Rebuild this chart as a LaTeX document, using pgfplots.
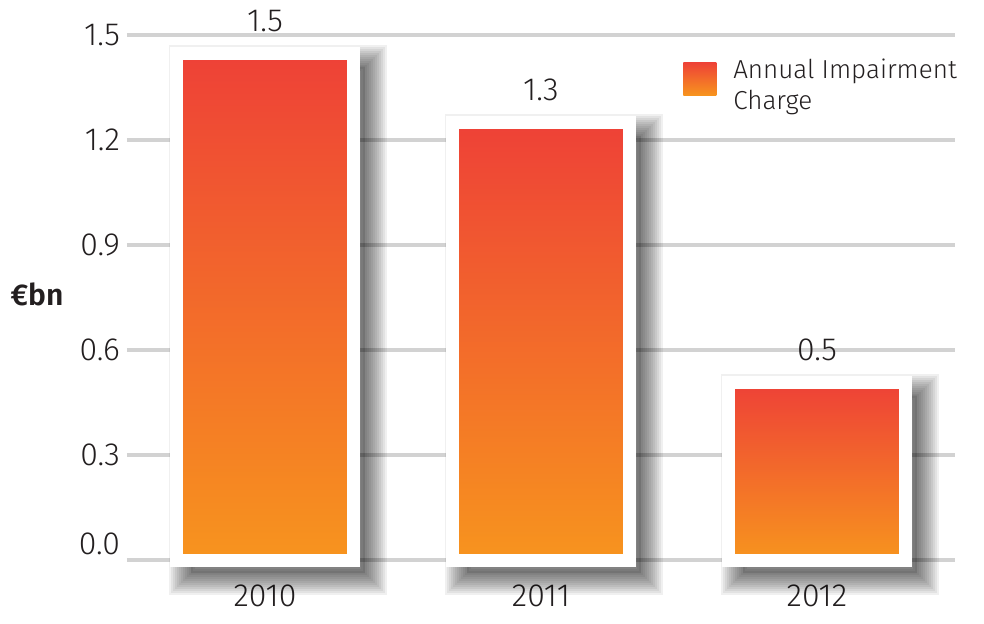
\documentclass[border=0pt]{standalone}
\usepackage{fontspec}
\setmainfont{Fira Sans}[UprightFont={* Light}, BoldFont={* SemiBold}]
\usepackage{pgfplots}
\usepackage{pgfplotstable}
\pgfplotsset{compat=1.18}

\definecolor{barTop}{HTML}{EE4137}
\definecolor{barBot}{HTML}{F7941E}
\definecolor{gridGray}{HTML}{D2D2D2}
\definecolor{txt}{HTML}{231F20}

\pgfplotsset{
    % soft drop shadow: stacked translucent outlines of slightly narrower bars
    shadowbar/.style={ybar, bar width=0.630, bar shift=0pt, forget plot,
        fill=none, draw=black, draw opacity=0.058,
        line width=#1, xshift=6.5pt, yshift=-6.5pt},
    % one framed bar, picked out of the table by its x
    mainbar/.style={ybar, bar width=0.641, bar shift=0pt,
        top color=barTop, bottom color=barBot,
        draw=white, line width=6.5pt,
        x filter/.expression={abs(x-#1)<0.1 ? x : nan},
        point meta=explicit symbolic,
        nodes near coords,
        nodes near coords style={font=\fontsize{16}{19}\selectfont, text=txt,
            anchor=south, yshift=4.5pt},
        legend image code/.code={
            \path[draw=none, top color=barTop, bottom color=barBot]
                (0pt,-5pt) rectangle (16.5pt,11.5pt);
        }},
}

% year position, bar height, printed label
\pgfplotstableread{
x val lab
0 1.447 1.5
1 1.249 1.3
2 0.507 0.5
}\charge

\begin{document}
\begin{tikzpicture}
\begin{axis}[
    at={(0,0)}, anchor=south west,
    scale only axis,
    width=414pt, height=262.5pt,
    xmin=-0.5, xmax=2.5,
    ymin=0, ymax=1.5,
    clip=false,
    axis line style={draw=none},
    major tick length=0pt,
    xtick={0,1,2},
    xticklabels={2010,2011,2012},
    ytick={0.3,0.6,...,1.5},
    extra y ticks={0},
    extra tick style={yticklabel style={yshift=8pt}},
    ymajorgrids,
    extra y tick style={grid=major},
    major grid style={draw=gridGray, line width=1.6pt},
    /pgf/number format/assume math mode=true,
    yticklabel={\pgfmathprintnumber[fixed,fixed zerofill,precision=1]{\tick}},
    tick label style={font=\fontsize{16}{19}\selectfont, text=txt},
    xticklabel style={yshift=-9pt},
    ylabel={€bn},
    ylabel style={rotate=-90, at={(rel axis cs:-0.1087,0.505)}, anchor=center,
        font=\fontsize{15}{18}\selectfont\bfseries, text=txt},
    legend style={at={(axis cs:1.514,1.434)}, anchor=north west,
        draw=none, fill=none, inner sep=0pt,
        font=\fontsize{13}{15.5}\selectfont, text=txt,
        nodes={inner sep=0pt},
        cells={align=left, anchor=west},
        column sep=8.5pt},
]
\addplot[ybar, bar width=0.630, bar shift=0pt, forget plot,
    fill=black, fill opacity=0.12, draw=none, xshift=6.5pt, yshift=-6.5pt]
    table[x=x, y=val] {\charge};
\pgfplotsinvokeforeach{2,4,6,8,10,12,14,16,18,20,22}{
    \addplot[shadowbar=#1pt] table[x=x, y=val] {\charge};
}
\addplot[mainbar=0] table[x=x, y=val, meta=lab] {\charge};
\addlegendentry{Annual Impairment\\Charge}
\addplot[mainbar=1, forget plot] table[x=x, y=val, meta=lab] {\charge};
\addplot[mainbar=2, forget plot] table[x=x, y=val, meta=lab] {\charge};
\end{axis}
\pgfresetboundingbox
\path[use as bounding box] (-63.5pt,-31.5pt) rectangle (428.5pt,280pt);
\end{tikzpicture}
\end{document}
